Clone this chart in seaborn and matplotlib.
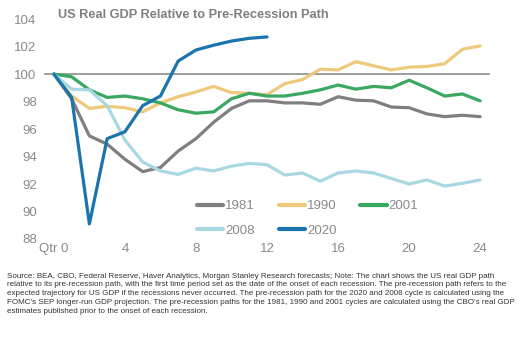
import pandas as pd
import numpy as np
import matplotlib
matplotlib.use("Agg")
import matplotlib.pyplot as plt
import seaborn as sns

quarters = list(range(25))

gdp_1981 = [100, 98.2, 95.5, 94.9, 93.8, 92.9, 93.2, 94.4, 95.3, 96.5, 97.5, 98.05, 98.05,
            97.9, 97.9, 97.8, 98.35, 98.1, 98.05, 97.6, 97.55, 97.1, 96.9, 97.0, 96.9]
gdp_1990 = [100, 98.4, 97.5, 97.65, 97.55, 97.25, 97.9, 98.35, 98.7, 99.1, 98.65, 98.6, 98.5,
            99.3, 99.6, 100.35, 100.3, 100.9, 100.6, 100.3, 100.5, 100.55, 100.75, 101.8, 102.05]
gdp_2001 = [100, 99.8, 98.85, 98.3, 98.4, 98.2, 97.9, 97.4, 97.15, 97.25, 98.2, 98.6, 98.4,
            98.4, 98.6, 98.85, 99.2, 98.9, 99.1, 99.0, 99.55, 99.0, 98.4, 98.55, 98.05]
gdp_2008 = [100, 98.9, 98.85, 97.7, 95.2, 93.6, 92.95, 92.7, 93.15, 92.95, 93.3, 93.5, 93.4,
            92.65, 92.8, 92.2, 92.8, 92.95, 92.8, 92.4, 92.0, 92.3, 91.85, 92.05, 92.3]
gdp_2020 = [100, 98.3, 89.1, 95.3, 95.8, 97.7, 98.4, 100.95, 101.75, 102.1, 102.4, 102.6, 102.7]

cycles = ["1981", "1990", "2001", "2008", "2020"]
colors = {"1981": "#7f7f7f", "1990": "#eec97c", "2001": "#3aa860",
          "2008": "#a8d8e2", "2020": "#1a74ad"}

x_ticks = [0, 4, 8, 12, 16, 20, 24]
x_labels = ["Qtr 0", "4", "8", "12", "16", "20", "24"]
y_ticks = [88, 90, 92, 94, 96, 98, 100, 102, 104]

series = {"1981": gdp_1981, "1990": gdp_1990, "2001": gdp_2001,
          "2008": gdp_2008, "2020": gdp_2020}
rows = []
for c in cycles:
    for q, v in zip(quarters, series[c]):
        rows.append({"qtr": q, "gdp": v, "cycle": c})
df = pd.DataFrame(rows)

sns.set_style("white")
plt.rcParams["font.family"] = ["Liberation Sans", "DejaVu Sans"]
txt_gray = "#8a8a8a"

fig = plt.figure(figsize=(5.2, 3.53), dpi=100)
ax = fig.add_axes([0.0865, 0.323, 0.854, 0.623])

sns.lineplot(data=df, x="qtr", y="gdp", hue="cycle", hue_order=cycles,
             palette=colors, linewidth=2.3, ax=ax, legend=False, zorder=3)

ax.set_xlim(-0.5, 24.5)
ax.set_ylim(88, 104)
ax.set_yticks(y_ticks)
ax.tick_params(axis="y", length=0, labelsize=9.5, labelcolor=txt_gray, pad=6)
ax.set_xlabel("")
ax.set_ylabel("")

for s in ["left", "right", "top"]:
    ax.spines[s].set_visible(False)

# category-style axis line sitting at 100, ticks between categories
ax.spines["bottom"].set_position(("data", 100))
ax.spines["bottom"].set_color("#8c8c8c")
ax.spines["bottom"].set_linewidth(1.2)
ax.spines["bottom"].set_zorder(1)
ax.set_xticks(np.arange(-0.5, 25, 2))
ax.tick_params(axis="x", length=4, width=1.2, color="#8c8c8c", labelbottom=False)

# labels at the bottom of the plot
sec = ax.secondary_xaxis(0)
sec.set_xticks(x_ticks)
sec.set_xticklabels(x_labels)
sec.tick_params(length=0, labelsize=9.5, labelcolor=txt_gray, pad=3)
sec.spines["bottom"].set_visible(False)

# legend laid out row by row
handles = [plt.Line2D([], [], color=colors[c], lw=3) for c in cycles]
order = [0, 3, 1, 4, 2]
ax.legend([handles[i] for i in order], [cycles[i] for i in order],
          ncol=3, frameon=False, loc="lower left", bbox_to_anchor=(0.315, -0.045),
          fontsize=9.5, labelcolor=txt_gray, handlelength=2.0, handletextpad=0.15,
          columnspacing=1.8, labelspacing=0.95)

fig.text(0.112, 0.975, "US Real GDP Relative to Pre-Recession Path", fontsize=9.2,
         fontweight="bold", color="#7f7f7f", ha="left", va="top")

note = ("Source: BEA, CBO, Federal Reserve, Haver Analytics, Morgan Stanley Research forecasts; Note: The chart shows the US real GDP path\n"
        "relative to its pre-recession path, with the first time period set as the date of the onset of each recession. The pre-recession path refers to the\n"
        "expected trajectory for US GDP if the recessions never occurred. The pre-recession path for the 2020 and 2008 cycle is calculated using the\n"
        "FOMC's SEP longer-run GDP projection. The pre-recession paths for the 1981, 1990 and 2001 cycles are calculated using the CBO's real GDP\n"
        "estimates published prior to the onset of each recession.")
fig.text(0.013, 0.228, note, fontsize=5.75, color="#333333", ha="left", va="top",
         linespacing=1.36)

fig.savefig("out.png", dpi=100)
